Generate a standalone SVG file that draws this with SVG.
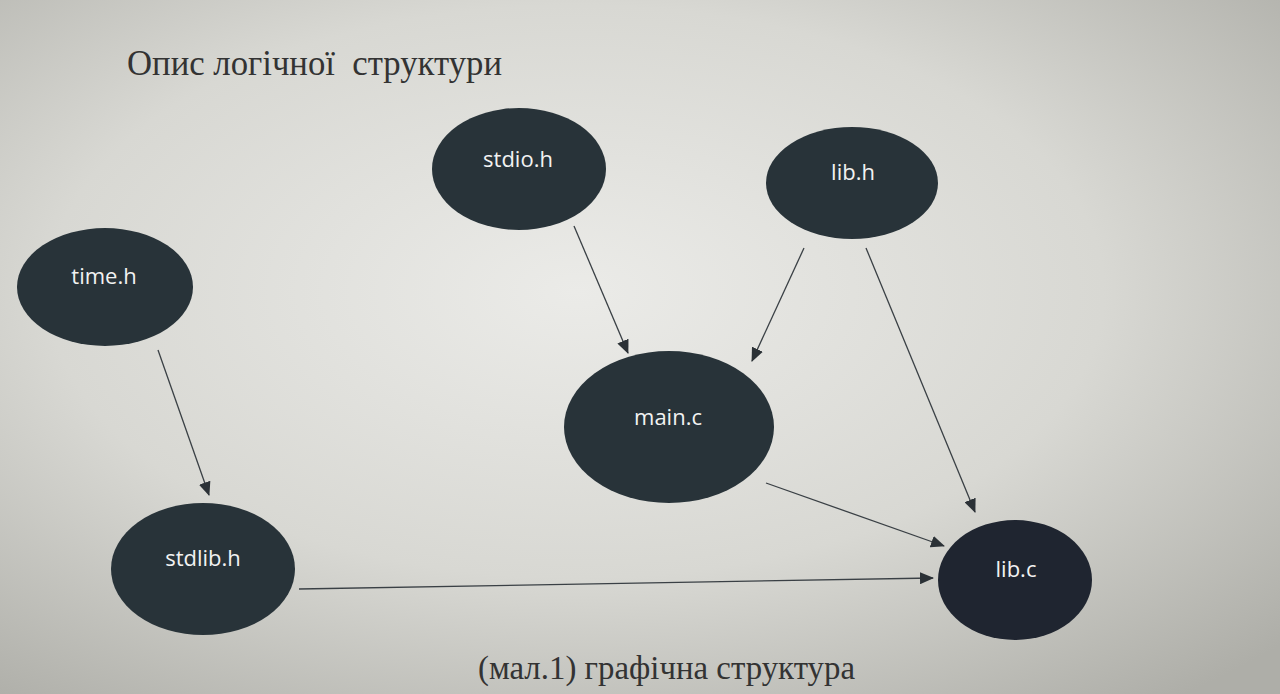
<svg xmlns="http://www.w3.org/2000/svg" width="1280" height="694" viewBox="0 0 1280 694">
<defs>
<radialGradient id="bg" cx="0.45" cy="0.42" r="0.75">
<stop offset="0" stop-color="#ebebe8"/>
<stop offset="0.55" stop-color="#d8d8d3"/>
<stop offset="1" stop-color="#aeaea8"/>
</radialGradient>
<marker id="ah" viewBox="0 0 14 12" refX="13" refY="6" markerWidth="14" markerHeight="12" markerUnits="userSpaceOnUse" orient="auto">
<path d="M0,0 L14,6 L0,12 Z" fill="#2b3136"/>
</marker>
<style>
.node{fill:#283339}
.lbl{fill:#f2f2f2;font-family:"Open Sans","DejaVu Sans",sans-serif;font-size:22px;text-anchor:middle}
.edge{stroke:#3a4045;stroke-width:1.3;fill:none;marker-end:url(#ah)}
.cap{fill:#333333;font-family:"Liberation Serif",serif;white-space:pre}
</style>
</defs>
<rect width="1280" height="694" fill="url(#bg)"/>
<text class="cap" x="127" y="75" font-size="35" textLength="375" lengthAdjust="spacingAndGlyphs" xml:space="preserve">Опис логічної  структури</text>
<text class="cap" x="478" y="679" font-size="33" textLength="377" lengthAdjust="spacingAndGlyphs">(мал.1) графічна структура</text>
<g id="connectors">
<line class="edge" x1="574" y1="226" x2="628" y2="353"/>
<line class="edge" x1="804" y1="248" x2="752" y2="361"/>
<line class="edge" x1="866" y1="248" x2="975" y2="512"/>
<line class="edge" x1="158" y1="350" x2="209" y2="495"/>
<line class="edge" x1="766" y1="483" x2="944" y2="546"/>
<line class="edge" x1="299" y1="589" x2="933" y2="578"/>
</g>
<g id="stdio"><ellipse class="node" cx="519" cy="169" rx="87" ry="61"/><text class="lbl" x="518" y="167">stdio.h</text></g>
<g id="libh"><ellipse class="node" cx="852" cy="183" rx="86" ry="56"/><text class="lbl" x="853" y="180">lib.h</text></g>
<g id="time"><ellipse class="node" cx="105" cy="287" rx="88" ry="59"/><text class="lbl" x="104" y="284">time.h</text></g>
<g id="main"><ellipse class="node" cx="669" cy="427" rx="105" ry="76"/><text class="lbl" x="668" y="425">main.c</text></g>
<g id="stdlib"><ellipse class="node" cx="203" cy="569" rx="92" ry="66"/><text class="lbl" x="203" y="566">stdlib.h</text></g>
<g id="libc"><ellipse class="node" cx="1015" cy="580" rx="77" ry="60" style="fill:#1f2530"/><text class="lbl" x="1016" y="577">lib.c</text></g>
</svg>
